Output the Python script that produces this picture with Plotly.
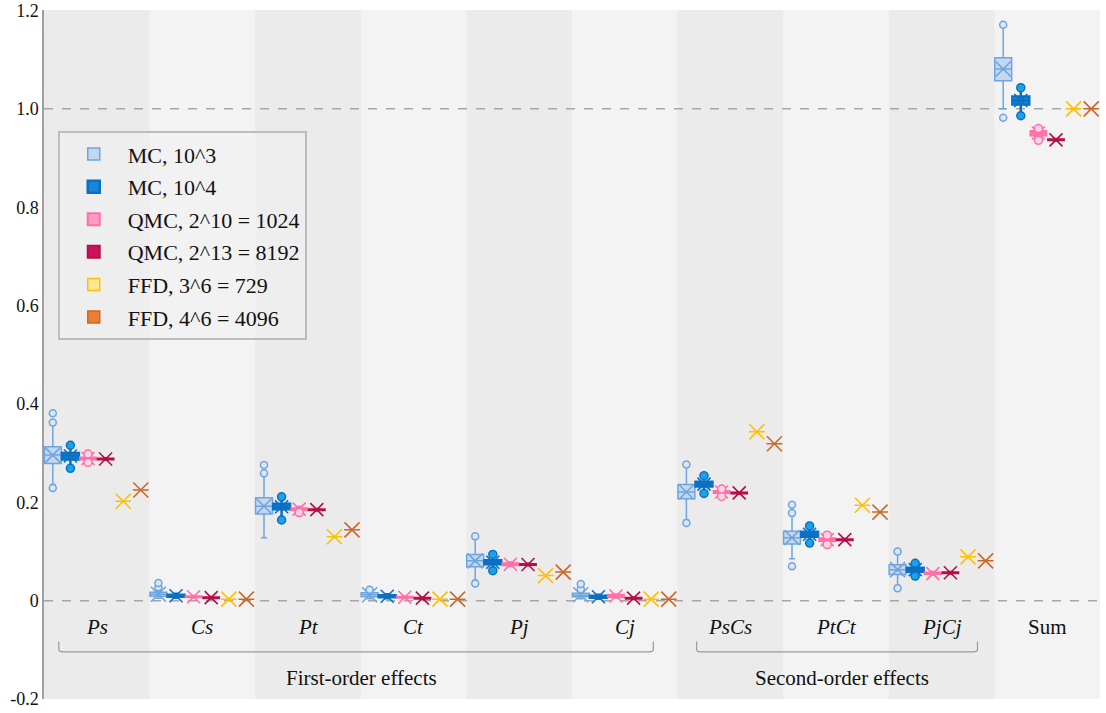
import plotly.graph_objects as go

# ---------------- data ----------------
CATEGORIES = ["Ps", "Cs", "Pt", "Ct", "Pj", "Cj", "PsCs", "PtCt", "PjCj", "Sum"]
ITALIC = [True, True, True, True, True, True, True, True, True, False]

SERIES = ["MC, 10^3", "MC, 10^4", "QMC, 2^10 = 1024", "QMC, 2^13 = 8192",
          "FFD, 3^6 = 729", "FFD, 4^6 = 4096"]

# MC, 10^3
MC3_Q1 = [0.279, 0.009, 0.176, 0.008, 0.069, 0.008, 0.207, 0.115, 0.053, 1.057]
MC3_MED = [0.296, 0.013, 0.192, 0.012, 0.081, 0.011, 0.221, 0.128, 0.063, 1.081]
MC3_Q3 = [0.313, 0.017, 0.209, 0.016, 0.094, 0.015, 0.236, 0.141, 0.073, 1.104]
MC3_LO = [0.236, 0.005, 0.128, 0.004, 0.041, 0.004, 0.164, 0.085, 0.031, 1.000]
MC3_HI = [0.357, 0.020, 0.254, 0.018, 0.125, 0.018, 0.271, 0.173, 0.095, 1.166]
MC3_MEAN = [0.296, 0.013, 0.192, 0.012, 0.081, 0.012, 0.221, 0.128, 0.063, 1.081]
MC3_OUT = [[0.229, 0.362, 0.381], [0.027, 0.036], [0.259, 0.276], [0.022],
           [0.035, 0.131], [0.023, 0.034], [0.158, 0.277], [0.070, 0.178, 0.195],
           [0.025, 0.100], [0.982, 1.171]]

# MC, 10^4
MC4_Q1 = [0.287, 0.008, 0.186, 0.007, 0.074, 0.006, 0.232, 0.130, 0.059, 1.009]
MC4_MED = [0.294, 0.010, 0.191, 0.009, 0.078, 0.008, 0.237, 0.135, 0.063, 1.017]
MC4_Q3 = [0.300, 0.012, 0.197, 0.011, 0.082, 0.010, 0.242, 0.140, 0.067, 1.025]
MC4_LO = [0.274, 0.006, 0.168, 0.005, 0.064, 0.004, 0.222, 0.120, 0.053, 0.991]
MC4_HI = [0.312, 0.014, 0.207, 0.013, 0.091, 0.012, 0.251, 0.149, 0.072, 1.038]
MC4_MEAN = [0.294, 0.010, 0.191, 0.009, 0.078, 0.008, 0.237, 0.135, 0.063, 1.017]
MC4_OUT = [[0.269, 0.316], [], [0.164, 0.211], [], [0.061, 0.094], [],
           [0.218, 0.254], [0.117, 0.152], [0.050, 0.076], [0.986, 1.043]]

# QMC, 2^10
Q10_Q1 = [0.287, 0.007, 0.184, 0.006, 0.072, 0.007, 0.219, 0.121, 0.054, 0.946]
Q10_MED = [0.289, 0.008, 0.186, 0.007, 0.074, 0.0095, 0.221, 0.124, 0.055, 0.951]
Q10_Q3 = [0.291, 0.009, 0.188, 0.008, 0.076, 0.012, 0.223, 0.127, 0.057, 0.955]
Q10_LO = [0.284, 0.006, 0.181, 0.005, 0.070, 0.006, 0.216, 0.118, 0.052, 0.942]
Q10_HI = [0.294, 0.010, 0.191, 0.009, 0.078, 0.013, 0.226, 0.130, 0.059, 0.958]
Q10_MEAN = [0.289, 0.008, 0.186, 0.007, 0.074, 0.0095, 0.221, 0.124, 0.055, 0.951]
Q10_OUT = [[0.281, 0.298], [], [0.179], [], [], [], [0.212, 0.227],
           [0.114, 0.133], [], [0.936, 0.960]]

# QMC, 2^13
Q13_Q1 = [0.287, 0.005, 0.184, 0.004, 0.0725, 0.004, 0.218, 0.123, 0.0557, 0.936]
Q13_MED = [0.288, 0.006, 0.185, 0.005, 0.0735, 0.005, 0.219, 0.124, 0.0567, 0.937]
Q13_Q3 = [0.289, 0.007, 0.186, 0.006, 0.0745, 0.006, 0.220, 0.125, 0.0577, 0.938]
Q13_LO = [0.286, 0.004, 0.183, 0.003, 0.0715, 0.003, 0.217, 0.122, 0.0547, 0.935]
Q13_HI = [0.290, 0.008, 0.187, 0.007, 0.0755, 0.007, 0.221, 0.126, 0.0587, 0.939]
Q13_MEAN = [0.288, 0.006, 0.185, 0.005, 0.0735, 0.005, 0.219, 0.124, 0.0567, 0.937]

# FFD (single values)
FFD3_VAL = [0.202, 0.003, 0.130, 0.003, 0.051, 0.003, 0.3435, 0.194, 0.089, 1.000]
FFD4_VAL = [0.225, 0.003, 0.144, 0.003, 0.058, 0.003, 0.319, 0.180, 0.081, 1.000]

Y_TICKS = [-0.2, 0, 0.2, 0.4, 0.6, 0.8, 1.0, 1.2]
Y_TICKTEXT = ["-0.2", "0", "0.2", "0.4", "0.6", "0.8", "1.0", "1.2"]

GROUPS = ["First-order effects", "Second-order effects"]
GROUP_SPAN = [(0.14, 5.77), (6.18, 8.84)]

# ---------------- style ----------------
FONT = "Liberation Serif"
LINE_C = ["#6fa5dd", "#0a70c4", "#ff6fa8", "#b3104a", "#ffc000", "#c8692a"]
FILL_C = ["#c3d7f1", "#1a86d8", "#ff9cc6", "#d0105a", "#ffe699", "#ed7d31"]
OUT_FILL = ["#dbe7f6", "#1aa3ea", "#ffd6e6", None, None, None]
MEAN_SIZE = [15, 13, 13, 13, 15, 15]
NS = 6
NCAT = len(CATEGORIES)


def xpos(i):
    return [k + (i + 0.5) / NS for k in range(NCAT)]


fig = go.Figure()

box_stats = [
    (MC3_Q1, MC3_MED, MC3_Q3, MC3_LO, MC3_HI),
    (MC4_Q1, MC4_MED, MC4_Q3, MC4_LO, MC4_HI),
    (Q10_Q1, Q10_MED, Q10_Q3, Q10_LO, Q10_HI),
    (Q13_Q1, Q13_MED, Q13_Q3, Q13_LO, Q13_HI),
    (FFD3_VAL, FFD3_VAL, FFD3_VAL, FFD3_VAL, FFD3_VAL),
    (FFD4_VAL, FFD4_VAL, FFD4_VAL, FFD4_VAL, FFD4_VAL),
]
means = [MC3_MEAN, MC4_MEAN, Q10_MEAN, Q13_MEAN, FFD3_VAL, FFD4_VAL]
outs = [MC3_OUT, MC4_OUT, Q10_OUT, None, None, None]
widths = [0.16, 0.16, 0.15, 0.15, 0.15, 0.15]
lw = [1.5, 2.5, 2, 2, 1.5, 1.5]

for i in range(NS):
    q1, med, q3, lo, hi = box_stats[i]
    fig.add_trace(go.Box(
        name=SERIES[i], x=xpos(i), q1=q1, median=med, q3=q3,
        lowerfence=lo, upperfence=hi, width=widths[i],
        fillcolor=FILL_C[i], line=dict(color=LINE_C[i], width=lw[i]),
        whiskerwidth=0.35, boxpoints=False, legendgroup=SERIES[i],
        hoverinfo="skip",
    ))

for i in range(NS):
    fig.add_trace(go.Scatter(
        x=xpos(i), y=means[i], mode="markers", showlegend=False,
        legendgroup=SERIES[i], hoverinfo="skip",
        marker=dict(symbol="x-thin", size=MEAN_SIZE[i],
                    line=dict(color=LINE_C[i], width=1.6)),
    ))
    if outs[i] is not None:
        ox, oy = [], []
        for k, vals in enumerate(outs[i]):
            for v in vals:
                ox.append(k + (i + 0.5) / NS)
                oy.append(v)
        fig.add_trace(go.Scatter(
            x=ox, y=oy, mode="markers", showlegend=False,
            legendgroup=SERIES[i], hoverinfo="skip",
            marker=dict(symbol="circle", size=7 if i == 0 else 8,
                        color=OUT_FILL[i],
                        line=dict(color=LINE_C[i], width=1.5)),
        ))

# background stripes
shapes = []
for k in range(NCAT):
    if k % 2 == 0:
        shapes.append(dict(type="rect", xref="x", yref="paper", x0=k, x1=k + 1,
                           y0=0, y1=1, fillcolor="#ebebeb", line_width=0,
                           layer="below"))
# dashed reference lines
for yv in (0, 1.0):
    shapes.append(dict(type="line", xref="paper", yref="y", x0=0, x1=1,
                       y0=yv, y1=yv, line=dict(color="#a6a6a6", width=1.5,
                                               dash="dash"), layer="below"))
# brackets
for (a, b) in GROUP_SPAN:
    shapes.append(dict(type="path", xref="x", yref="y",
                       path=f"M{a},-0.083 L{a},-0.100 Q{a},-0.104 {a+0.04},-0.104 "
                            f"L{b-0.04},-0.104 Q{b},-0.104 {b},-0.100 L{b},-0.083",
                       line=dict(color="#9a9a9a", width=1.2)))

annotations = []
for k, c in enumerate(CATEGORIES):
    txt = f"<i>{c}</i>" if ITALIC[k] else c
    annotations.append(dict(x=k + 0.5, y=-0.053, xref="x", yref="y", text=txt,
                            showarrow=False,
                            font=dict(family=FONT, size=21, color="#111")))
for g, (a, b) in zip(GROUPS, GROUP_SPAN):
    annotations.append(dict(x=(a + b) / 2 + 0.05, y=-0.158, xref="x", yref="y",
                            text=g, showarrow=False,
                            font=dict(family=FONT, size=21, color="#111")))

fig.update_layout(
    width=1106, height=713,
    margin=dict(l=44, r=6, t=10, b=14),
    paper_bgcolor="white", plot_bgcolor="#f3f3f3",
    boxmode="overlay",
    shapes=shapes, annotations=annotations,
    font=dict(family=FONT, color="#111"),
    xaxis=dict(range=[0, NCAT], showticklabels=False, showgrid=False,
               zeroline=False, ticks="", automargin=False),
    yaxis=dict(range=[-0.2, 1.201], tickvals=Y_TICKS, ticktext=Y_TICKTEXT,
               showgrid=False, zeroline=False, showline=True,
               linecolor="#a0a0a0", linewidth=1.5, ticks="", automargin=False,
               ticklabeloverflow="allow",
               tickfont=dict(family=FONT, size=18, color="#111")),
    legend=dict(x=0.013, y=0.824, xanchor="left", yanchor="top",
                bgcolor="rgba(240,240,240,0.55)", bordercolor="#bdbdbd",
                borderwidth=2, font=dict(family=FONT, size=22, color="#111"),
                tracegroupgap=1, itemwidth=58),
    showlegend=True,
)

fig.write_html("out.html",
               config={"displayModeBar": False},
               post_script="document.body.style.margin='0';"
                           "document.body.style.overflow='hidden';")
